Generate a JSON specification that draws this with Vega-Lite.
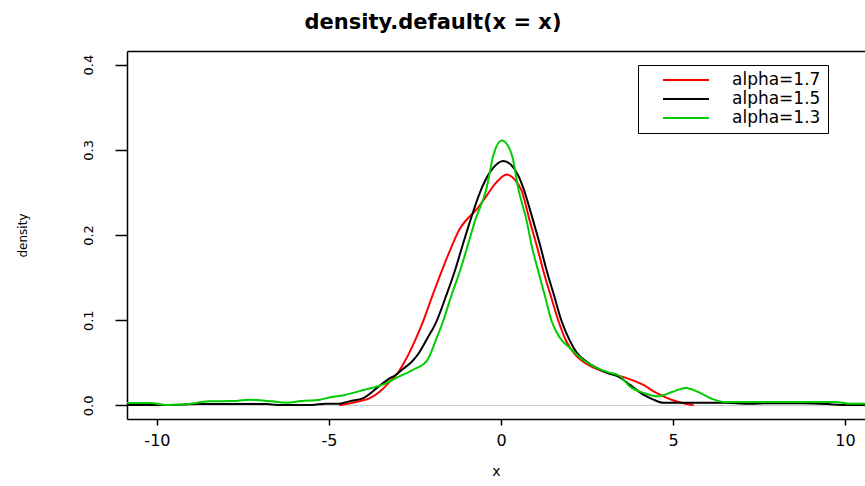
{
  "$schema": "https://vega.github.io/schema/vega-lite/v6.json",
  "width": 738,
  "height": 368,
  "autosize": {"type": "none"},
  "padding": {"left": 127, "top": 51, "right": 0, "bottom": 67},
  "background": "white",
  "title": {"text": "density.default(x = x)", "font": "DejaVu Sans", "fontSize": 21, "fontWeight": "bold", "color": "#000", "anchor": "middle", "frame": "group", "dx": -63, "offset": 18},
  "config": {
    "font": "DejaVu Sans",
    "view": {"stroke": null},
    "axis": {"grid": false, "domainColor": "#000", "domainWidth": 1.5, "tickColor": "#000", "tickWidth": 1.5, "labelColor": "#000", "titleColor": "#000", "labelFont": "DejaVu Sans", "titleFont": "DejaVu Sans", "titleFontWeight": "normal"}
  },
  "datasets": {
    "curves": [
      {"series": "alpha=1.7", "x": -4.7, "density": 0},
      {"series": "alpha=1.7", "x": -4.49, "density": 0.0016},
      {"series": "alpha=1.7", "x": -4.1, "density": 0.005},
      {"series": "alpha=1.7", "x": -3.81, "density": 0.0086},
      {"series": "alpha=1.7", "x": -3.5, "density": 0.017},
      {"series": "alpha=1.7", "x": -3.23, "density": 0.028},
      {"series": "alpha=1.7", "x": -3.0, "density": 0.038},
      {"series": "alpha=1.7", "x": -2.79, "density": 0.052},
      {"series": "alpha=1.7", "x": -2.5, "density": 0.076},
      {"series": "alpha=1.7", "x": -2.26, "density": 0.099},
      {"series": "alpha=1.7", "x": -2.0, "density": 0.128},
      {"series": "alpha=1.7", "x": -1.72, "density": 0.158},
      {"series": "alpha=1.7", "x": -1.45, "density": 0.185},
      {"series": "alpha=1.7", "x": -1.2, "density": 0.207},
      {"series": "alpha=1.7", "x": -1.0, "density": 0.218},
      {"series": "alpha=1.7", "x": -0.71, "density": 0.23},
      {"series": "alpha=1.7", "x": -0.42, "density": 0.246},
      {"series": "alpha=1.7", "x": -0.13, "density": 0.262},
      {"series": "alpha=1.7", "x": 0.17, "density": 0.271},
      {"series": "alpha=1.7", "x": 0.42, "density": 0.264},
      {"series": "alpha=1.7", "x": 0.6, "density": 0.252},
      {"series": "alpha=1.7", "x": 0.84, "density": 0.216},
      {"series": "alpha=1.7", "x": 1.05, "density": 0.186},
      {"series": "alpha=1.7", "x": 1.23, "density": 0.158},
      {"series": "alpha=1.7", "x": 1.45, "density": 0.128},
      {"series": "alpha=1.7", "x": 1.67, "density": 0.099},
      {"series": "alpha=1.7", "x": 1.9, "density": 0.075},
      {"series": "alpha=1.7", "x": 2.15, "density": 0.06},
      {"series": "alpha=1.7", "x": 2.4, "density": 0.051},
      {"series": "alpha=1.7", "x": 2.6, "density": 0.046},
      {"series": "alpha=1.7", "x": 2.9, "density": 0.041},
      {"series": "alpha=1.7", "x": 3.2, "density": 0.037},
      {"series": "alpha=1.7", "x": 3.5, "density": 0.034},
      {"series": "alpha=1.7", "x": 3.8, "density": 0.03},
      {"series": "alpha=1.7", "x": 4.14, "density": 0.024},
      {"series": "alpha=1.7", "x": 4.45, "density": 0.016},
      {"series": "alpha=1.7", "x": 4.72, "density": 0.0106},
      {"series": "alpha=1.7", "x": 5.0, "density": 0.006},
      {"series": "alpha=1.7", "x": 5.25, "density": 0.003},
      {"series": "alpha=1.7", "x": 5.6, "density": 0},

      {"series": "alpha=1.5", "x": -10.9, "density": 0.0005},
      {"series": "alpha=1.5", "x": -10.0, "density": 0.0005},
      {"series": "alpha=1.5", "x": -9.3, "density": 0.0008},
      {"series": "alpha=1.5", "x": -8.8, "density": 0.0016},
      {"series": "alpha=1.5", "x": -7.5, "density": 0.0017},
      {"series": "alpha=1.5", "x": -6.8, "density": 0.0016},
      {"series": "alpha=1.5", "x": -6.5, "density": 0.0005},
      {"series": "alpha=1.5", "x": -5.5, "density": 0.0005},
      {"series": "alpha=1.5", "x": -5.1, "density": 0.002},
      {"series": "alpha=1.5", "x": -4.7, "density": 0.002},
      {"series": "alpha=1.5", "x": -4.39, "density": 0.005},
      {"series": "alpha=1.5", "x": -4.0, "density": 0.0086},
      {"series": "alpha=1.5", "x": -3.62, "density": 0.02},
      {"series": "alpha=1.5", "x": -3.3, "density": 0.03},
      {"series": "alpha=1.5", "x": -3.05, "density": 0.036},
      {"series": "alpha=1.5", "x": -2.84, "density": 0.043},
      {"series": "alpha=1.5", "x": -2.6, "density": 0.051},
      {"series": "alpha=1.5", "x": -2.41, "density": 0.06},
      {"series": "alpha=1.5", "x": -2.15, "density": 0.078},
      {"series": "alpha=1.5", "x": -1.87, "density": 0.099},
      {"series": "alpha=1.5", "x": -1.6, "density": 0.128},
      {"series": "alpha=1.5", "x": -1.34, "density": 0.158},
      {"series": "alpha=1.5", "x": -1.1, "density": 0.19},
      {"series": "alpha=1.5", "x": -0.9, "density": 0.216},
      {"series": "alpha=1.5", "x": -0.56, "density": 0.255},
      {"series": "alpha=1.5", "x": -0.3, "density": 0.275},
      {"series": "alpha=1.5", "x": 0.07, "density": 0.287},
      {"series": "alpha=1.5", "x": 0.3, "density": 0.282},
      {"series": "alpha=1.5", "x": 0.5, "density": 0.27},
      {"series": "alpha=1.5", "x": 0.65, "density": 0.255},
      {"series": "alpha=1.5", "x": 0.94, "density": 0.216},
      {"series": "alpha=1.5", "x": 1.15, "density": 0.186},
      {"series": "alpha=1.5", "x": 1.33, "density": 0.158},
      {"series": "alpha=1.5", "x": 1.55, "density": 0.128},
      {"series": "alpha=1.5", "x": 1.76, "density": 0.099},
      {"series": "alpha=1.5", "x": 2.0, "density": 0.076},
      {"series": "alpha=1.5", "x": 2.2, "density": 0.062},
      {"series": "alpha=1.5", "x": 2.5, "density": 0.051},
      {"series": "alpha=1.5", "x": 2.78, "density": 0.044},
      {"series": "alpha=1.5", "x": 3.1, "density": 0.038},
      {"series": "alpha=1.5", "x": 3.45, "density": 0.033},
      {"series": "alpha=1.5", "x": 3.75, "density": 0.024},
      {"series": "alpha=1.5", "x": 4.14, "density": 0.0125},
      {"series": "alpha=1.5", "x": 4.43, "density": 0.0067},
      {"series": "alpha=1.5", "x": 4.72, "density": 0.003},
      {"series": "alpha=1.5", "x": 5.5, "density": 0.003},
      {"series": "alpha=1.5", "x": 6.5, "density": 0.003},
      {"series": "alpha=1.5", "x": 7.2, "density": 0.002},
      {"series": "alpha=1.5", "x": 7.8, "density": 0.0025},
      {"series": "alpha=1.5", "x": 8.8, "density": 0.0025},
      {"series": "alpha=1.5", "x": 9.5, "density": 0.0015},
      {"series": "alpha=1.5", "x": 9.9, "density": 0.0005},
      {"series": "alpha=1.5", "x": 10.9, "density": 0.0005},

      {"series": "alpha=1.3", "x": -10.9, "density": 0.0027},
      {"series": "alpha=1.3", "x": -10.2, "density": 0.0027},
      {"series": "alpha=1.3", "x": -9.7, "density": 0.0005},
      {"series": "alpha=1.3", "x": -9.2, "density": 0.001},
      {"series": "alpha=1.3", "x": -8.5, "density": 0.0047},
      {"series": "alpha=1.3", "x": -7.8, "density": 0.005},
      {"series": "alpha=1.3", "x": -7.35, "density": 0.0067},
      {"series": "alpha=1.3", "x": -6.65, "density": 0.0047},
      {"series": "alpha=1.3", "x": -6.24, "density": 0.003},
      {"series": "alpha=1.3", "x": -5.8, "density": 0.005},
      {"series": "alpha=1.3", "x": -5.26, "density": 0.0067},
      {"series": "alpha=1.3", "x": -4.97, "density": 0.0095},
      {"series": "alpha=1.3", "x": -4.57, "density": 0.012},
      {"series": "alpha=1.3", "x": -4.0, "density": 0.018},
      {"series": "alpha=1.3", "x": -3.4, "density": 0.025},
      {"series": "alpha=1.3", "x": -3.03, "density": 0.0325},
      {"series": "alpha=1.3", "x": -2.5, "density": 0.043},
      {"series": "alpha=1.3", "x": -2.16, "density": 0.052},
      {"series": "alpha=1.3", "x": -1.86, "density": 0.08},
      {"series": "alpha=1.3", "x": -1.68, "density": 0.099},
      {"series": "alpha=1.3", "x": -1.45, "density": 0.128},
      {"series": "alpha=1.3", "x": -1.19, "density": 0.158},
      {"series": "alpha=1.3", "x": -0.95, "density": 0.19},
      {"series": "alpha=1.3", "x": -0.76, "density": 0.216},
      {"series": "alpha=1.3", "x": -0.42, "density": 0.255},
      {"series": "alpha=1.3", "x": -0.22, "density": 0.294},
      {"series": "alpha=1.3", "x": 0.02, "density": 0.311},
      {"series": "alpha=1.3", "x": 0.2, "density": 0.305},
      {"series": "alpha=1.3", "x": 0.33, "density": 0.292},
      {"series": "alpha=1.3", "x": 0.5, "density": 0.255},
      {"series": "alpha=1.3", "x": 0.75, "density": 0.216},
      {"series": "alpha=1.3", "x": 0.9, "density": 0.186},
      {"series": "alpha=1.3", "x": 1.08, "density": 0.158},
      {"series": "alpha=1.3", "x": 1.28, "density": 0.128},
      {"series": "alpha=1.3", "x": 1.47, "density": 0.099},
      {"series": "alpha=1.3", "x": 1.7, "density": 0.08},
      {"series": "alpha=1.3", "x": 2.0, "density": 0.0675},
      {"series": "alpha=1.3", "x": 2.4, "density": 0.053},
      {"series": "alpha=1.3", "x": 2.78, "density": 0.044},
      {"series": "alpha=1.3", "x": 3.1, "density": 0.039},
      {"series": "alpha=1.3", "x": 3.45, "density": 0.0345},
      {"series": "alpha=1.3", "x": 3.75, "density": 0.022},
      {"series": "alpha=1.3", "x": 4.14, "density": 0.0147},
      {"series": "alpha=1.3", "x": 4.56, "density": 0.0106},
      {"series": "alpha=1.3", "x": 4.97, "density": 0.0157},
      {"series": "alpha=1.3", "x": 5.38, "density": 0.0204},
      {"series": "alpha=1.3", "x": 5.73, "density": 0.0157},
      {"series": "alpha=1.3", "x": 6.2, "density": 0.0067},
      {"series": "alpha=1.3", "x": 6.5, "density": 0.004},
      {"series": "alpha=1.3", "x": 8.0, "density": 0.004},
      {"series": "alpha=1.3", "x": 9.74, "density": 0.004},
      {"series": "alpha=1.3", "x": 10.1, "density": 0.002},
      {"series": "alpha=1.3", "x": 10.9, "density": 0.002}
    ]
  },
  "resolve": {"axis": {"x": "independent"}},
  "layer": [
    {
      "data": {"values": [{"density": 0}]},
      "mark": {"type": "rule", "color": "#c8c8c8", "strokeWidth": 1},
      "encoding": {
        "y": {"field": "density", "type": "quantitative"}
      }
    },
    {
      "data": {"name": "curves"},
      "mark": {"type": "line", "strokeWidth": 2, "clip": true, "interpolate": "monotone"},
      "encoding": {
        "x": {"field": "x", "type": "quantitative", "scale": {"domain": [-10.87, 10.58], "nice": false, "zero": false},
          "axis": {"orient": "bottom", "values": [-10, -5, 0, 5, 10], "labelExpr": "datum.value < 0 ? '-' + abs(datum.value) : '' + datum.value", "tickSize": 6, "labelFontSize": 16, "labelPadding": 7, "title": "x", "titleFontSize": 14, "titlePadding": 16, "labelFlush": false}},
        "y": {"field": "density", "type": "quantitative", "scale": {"domain": [-0.016, 0.416], "nice": false, "zero": false},
          "axis": {"values": [0, 0.1, 0.2, 0.3, 0.4], "format": ".1f", "tickSize": 12, "labelAngle": 270, "labelAlign": "center", "labelBaseline": "bottom", "labelPadding": 20, "labelFontSize": 13, "title": "density", "titleFontSize": 12, "titlePadding": 53}},
        "color": {"field": "series", "type": "nominal",
          "scale": {"domain": ["alpha=1.7", "alpha=1.5", "alpha=1.3"], "range": ["#ff0000", "#000000", "#00cc00"]},
          "legend": {"orient": "none", "legendX": 511, "legendY": 14, "title": null, "symbolType": "stroke", "symbolSize": 2116, "clipHeight": 16, "rowPadding": 2, "symbolStrokeWidth": 2, "symbolOffset": 17, "labelOffset": 22, "padding": 7, "labelFont": "DejaVu Sans", "labelFontSize": 17, "labelColor": "#000", "strokeColor": "#000", "fillColor": "#fff"}}
      }
    },
    {
      "data": {"values": [{"x": 0}]},
      "mark": {"type": "point", "opacity": 0},
      "encoding": {
        "x": {"field": "x", "type": "quantitative", "axis": {"orient": "top", "labels": false, "ticks": false, "title": null}}
      }
    }
  ]
}
